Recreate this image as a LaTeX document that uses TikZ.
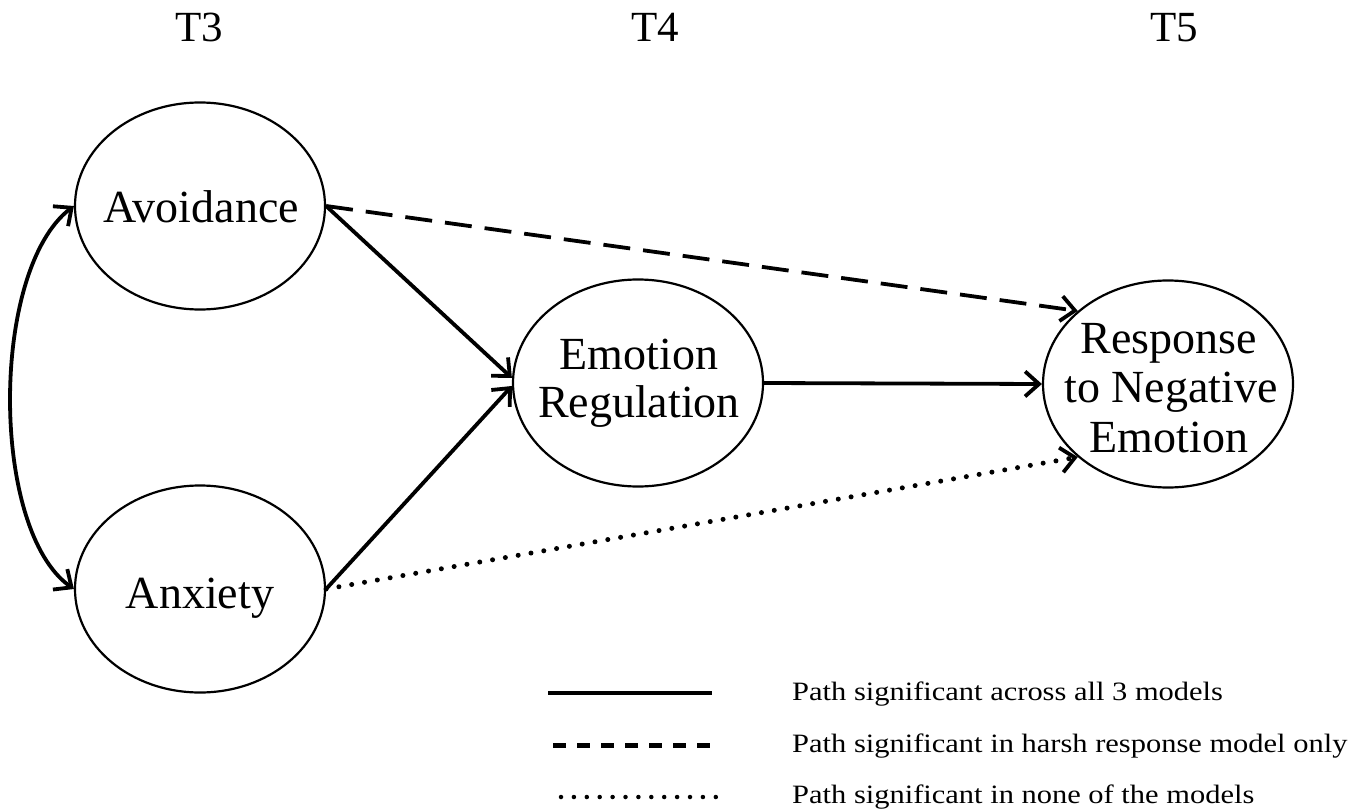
\documentclass[tikz,border=0pt]{standalone}
\usepackage{fontspec}
\setmainfont{Liberation Serif}
\usetikzlibrary{arrows.meta,shapes.geometric}
\begin{document}
\begin{tikzpicture}[x=1pt,y=-1pt,
  latent/.style={ellipse,draw,line width=2.2pt,minimum width=250pt,minimum height=207pt,inner sep=0pt},
  nodetext/.style={font=\fontsize{46}{49}\selectfont,anchor=base,inner sep=0pt},
  timelabel/.style={font=\fontsize{43}{48}\selectfont,anchor=base},
  legendtext/.style={font=\fontsize{26.5}{28}\selectfont,anchor=base west,inner sep=0pt},
  tip/.style={-{Straight Barb[length=14pt,width=25pt,line width=3.8pt]}},
  conn/.style={line width=3.8pt,tip},
  solidpath/.style={conn},
  dashpath/.style={conn,dash pattern=on 27pt off 13pt},
  dotpath/.style={line width=5pt,tip,line cap=round,dash pattern=on 0pt off 13pt},
  corr/.style={line width=3.8pt,{Straight Barb[length=14pt,width=25pt,line width=3.8pt]}-{Straight Barb[length=14pt,width=25pt,line width=3.8pt]}},
  legsolid/.style={line width=4.5pt},
  legdash/.style={line width=5pt,dash pattern=on 13pt off 11pt},
  legdot/.style={line width=4.5pt,line cap=round,dash pattern=on 0pt off 12.9pt}
]
\useasboundingbox (0,0) rectangle (1364,810);

\node[timelabel] (t3) at (199,42) {T3};
\node[timelabel] (t4) at (655,42) {T4};
\node[timelabel] (t5) at (1174,42) {T5};

\node[latent] (avo) at (200,206) {};
\node[latent] (anx) at (200,589) {};
\node[latent] (emo) at (638,383) {};
\node[latent] (res) at (1168,384) {};

\node[nodetext] (avo-t) at (201,223) {Avoidance};
\node[nodetext] (anx-t) at (200,608) {Anxiety};
\node[nodetext] (emo-t1) at (639,369) {Emotion};
\node[nodetext] (emo-t2) at (639,417) {Regulation};
\node[nodetext] (res-t1) at (1169,353) {Response};
\node[nodetext] (res-t2) at (1171,402) {to Negative};
\node[nodetext] (res-t3) at (1169,452) {Emotion};

\draw[corr] (avo.west) .. controls (-10,270) and (-10,530) .. (anx.west);
\draw[solidpath] (avo.east) -- ([yshift=5pt]emo.west);
\draw[solidpath] (anx.east) -- ([yshift=-3pt]emo.west);
\draw[solidpath] (emo.east) -- (res.west);
\draw[dashpath] (avo.east) -- (res.141);
\draw[dotpath] (anx.east) -- (res.219);

\coordinate (l1a) at (548,693); \coordinate (l1b) at (712,693);
\coordinate (l2a) at (553,745); \coordinate (l2b) at (713,745);
\coordinate (l3a) at (561,797); \coordinate (l3b) at (716,797);
\draw[legsolid] (l1a) -- (l1b);
\draw[legdash] (l2a) -- (l2b);
\draw[legdot] (l3a) -- (l3b);

\node[legendtext] (lt1) at (792,700) {\scalebox{1.15}[1]{Path significant across all 3 models}};
\node[legendtext] (lt2) at (792,752) {\scalebox{1.15}[1]{Path significant in harsh response model only}};
\node[legendtext] (lt3) at (792,803) {\scalebox{1.15}[1]{Path significant in none of the models}};
\end{tikzpicture}
\end{document}
